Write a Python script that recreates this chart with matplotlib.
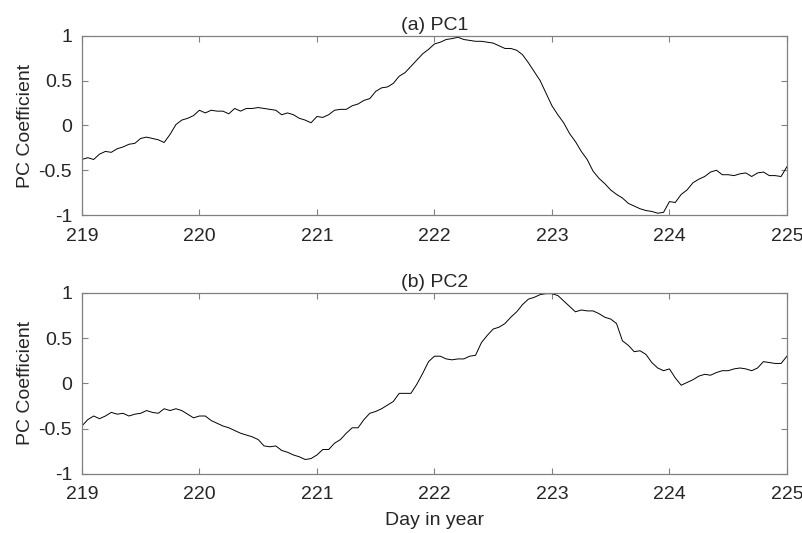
import numpy as np
import matplotlib
matplotlib.use("Agg")
import matplotlib.pyplot as plt

plt.rcParams['font.family'] = ['Liberation Sans', 'DejaVu Sans']

day = np.round(np.arange(219.0, 225.0001, 0.05), 2)

pc1 = [-0.38, -0.36, -0.38, -0.32, -0.29, -0.30, -0.26, -0.24, -0.21, -0.20,
       -0.145, -0.13, -0.145, -0.16, -0.19, -0.10, 0.01, 0.06, 0.08, 0.11,
       0.17, 0.14, 0.17, 0.16, 0.16, 0.13, 0.19, 0.16, 0.19, 0.19,
       0.20, 0.19, 0.18, 0.17, 0.12, 0.14, 0.12, 0.08, 0.06, 0.03,
       0.10, 0.09, 0.12, 0.17, 0.18, 0.18, 0.22, 0.24, 0.28, 0.30,
       0.38, 0.42, 0.43, 0.47, 0.55, 0.59, 0.66, 0.73, 0.80, 0.85,
       0.91, 0.93, 0.96, 0.97, 0.985, 0.96, 0.95, 0.94, 0.94, 0.93,
       0.92, 0.89, 0.86, 0.86, 0.84, 0.79, 0.70, 0.60, 0.50, 0.36,
       0.22, 0.12, 0.03, -0.09, -0.18, -0.29, -0.38, -0.51, -0.59, -0.65,
       -0.72, -0.77, -0.81, -0.87, -0.90, -0.93, -0.95, -0.96, -0.98, -0.97,
       -0.85, -0.86, -0.77, -0.72, -0.64, -0.60, -0.57, -0.52, -0.50, -0.55,
       -0.55, -0.56, -0.54, -0.53, -0.57, -0.53, -0.52, -0.56, -0.56, -0.57,
       -0.46]

pc2 = [-0.47, -0.40, -0.36, -0.39, -0.36, -0.32, -0.34, -0.33, -0.36, -0.34,
       -0.33, -0.30, -0.32, -0.33, -0.28, -0.30, -0.28, -0.30, -0.34, -0.38,
       -0.36, -0.36, -0.41, -0.44, -0.47, -0.49, -0.52, -0.55, -0.57, -0.59,
       -0.62, -0.69, -0.70, -0.69, -0.74, -0.76, -0.79, -0.81, -0.84, -0.83,
       -0.79, -0.73, -0.73, -0.66, -0.62, -0.55, -0.49, -0.49, -0.40, -0.33,
       -0.31, -0.28, -0.24, -0.20, -0.11, -0.11, -0.11, -0.01, 0.11, 0.24,
       0.30, 0.30, 0.27, 0.26, 0.27, 0.27, 0.30, 0.31, 0.45, 0.53,
       0.60, 0.62, 0.66, 0.73, 0.79, 0.87, 0.93, 0.95, 0.98, 0.99,
       0.99, 0.97, 0.91, 0.85, 0.79, 0.81, 0.80, 0.80, 0.77, 0.73,
       0.71, 0.66, 0.47, 0.42, 0.35, 0.36, 0.32, 0.23, 0.17, 0.14,
       0.16, 0.06, -0.02, 0.01, 0.04, 0.08, 0.10, 0.09, 0.12, 0.14,
       0.14, 0.16, 0.17, 0.16, 0.14, 0.17, 0.24, 0.23, 0.22, 0.22,
       0.30]

titles = ['(a) PC1', '(b) PC2']
series = [pc1, pc2]
xticks = [219, 220, 221, 222, 223, 224, 225]
yticks = [-1, -0.5, 0, 0.5, 1]
yticklabels = ['-1', '-0.5', '0', '0.5', '1']

txt = '#262626'
edge = '#808080'
fs = 14

fig = plt.figure(figsize=(8.03, 5.33), dpi=100)
boxes = [[0.102, 0.5966, 0.878, 0.336], [0.102, 0.1107, 0.878, 0.340]]

for box, ttl, y in zip(boxes, titles, series):
    ax = fig.add_axes(box)
    ax.plot(day, y, color='black', lw=0.7)
    ax.set_xlim(219, 225)
    ax.set_ylim(-1, 1)
    ax.set_xticks(xticks)
    ax.set_yticks(yticks)
    ax.set_yticklabels(yticklabels)
    ax.tick_params(direction='in', top=True, right=True, length=4,
                   color=edge, labelcolor=txt, labelsize=fs)
    ax.tick_params(axis='x', pad=9)
    ax.tick_params(axis='y', pad=7)
    for s in ax.spines.values():
        s.set_color(edge)
        s.set_linewidth(0.9)
    ax.set_title(ttl, fontsize=fs, color=txt, pad=4)
    ax.set_ylabel('PC Coefficient', fontsize=fs, color=txt, labelpad=3)

ax.set_xlabel('Day in year', fontsize=fs, color=txt, labelpad=6)

plt.savefig('out.png', dpi=100)
